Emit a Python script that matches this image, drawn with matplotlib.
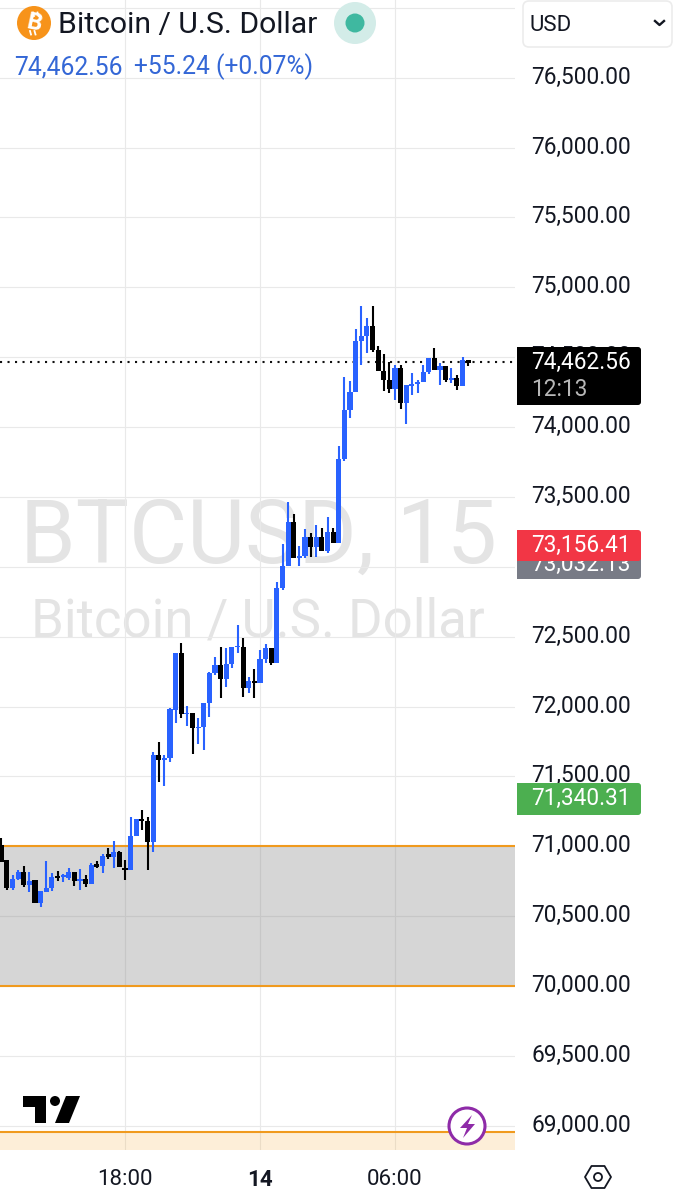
import matplotlib
matplotlib.use("Agg")
import matplotlib.pyplot as plt
from matplotlib.patches import Circle, FancyBboxPatch, Polygon, Rectangle
from matplotlib.transforms import ScaledTranslation

plt.rcParams['font.family'] = ['Roboto', 'DejaVu Sans']

# ---- data ----
slots = list(range(-22, 62))   # 15-minute candles, 0 = 18:00
opens = [71009,70902,70699,70763,70818,70723,70759,70597,70675,70699,70787,70783,70771,70814,70754,70763,70730,70871,70859,70942,70921,70961,
         70847,70830,71073,71195,71181,71028,71653,71617,71629,71975,72385,71944,71951,71844,71856,72028,72237,72297,72194,72302,72423,72428,72135,72183,72166,72340,72416,72314,
         72845,73005,73318,73060,73079,73210,73139,73215,73115,73246,73172,73768,74122,74248,74616,74654,74723,74551,74403,74337,74272,74425,74170,74296,74308,74325,74391,74492,74408,74439,74337,74349,74294,74480]
highs = [71057,70902,70794,70830,70859,70818,70759,70682,70895,70811,70823,70799,70842,70814,70835,70794,70878,70897,70945,70985,71040,70969,
         70902,71212,71195,71259,71212,71672,71748,71653,71987,72385,72452,72006,71951,71915,72028,72249,72357,72423,72416,72428,72583,72488,72209,72266,72404,72447,72416,72893,
         73163,73466,73375,73151,73268,73239,73299,73275,73353,73275,73864,74356,74329,74699,74866,74783,74866,74582,74523,74468,74444,74444,74301,74389,74337,74444,74492,74563,74456,74439,74420,74372,74499,74480]
lows = [70890,70687,70687,70759,70711,70675,70597,70568,70675,70680,70754,70747,70759,70716,70687,70711,70730,70842,70806,70907,70842,70854,
        70759,70830,71073,71116,70830,70956,71462,71434,71601,71880,71915,71861,71660,71732,71689,71923,72225,72063,72137,72278,72380,72066,72099,72058,72166,72309,72297,72314,
        72834,73005,73060,73008,73060,73072,73072,73115,73101,73172,73172,73759,74062,74248,74444,74527,74539,74403,74260,74241,74194,74127,74019,74229,74241,74325,74380,74408,74301,74325,74313,74265,74294,74439]
closes = [70890,70699,70763,70818,70723,70752,70597,70682,70704,70783,70775,70794,70818,70754,70763,70730,70866,70854,70933,70926,70961,70854,
          70830,71073,71195,71181,71028,71653,71617,71629,71980,72385,71944,71956,71844,71856,72028,72242,72297,72194,72302,72428,72435,72135,72183,72166,72340,72416,72314,72845,
          73005,73318,73060,73079,73210,73139,73215,73115,73246,73172,73768,74122,74248,74616,74654,74723,74551,74403,74337,74272,74425,74170,74301,74308,74325,74391,74492,74408,74439,74337,74349,74294,74480,74461]

price_ticks = [69000 + 500 * i for i in range(17)]
time_ticks = [0, 24, 48]
time_labels = ['18:00', '14', '06:00']
zone_grey = (70000, 71000)
zone_low_top = 68958
last_price = 74462.56

BLUE = '#2962FF'
W, H = 681, 1200
PLOT_R, PLOT_B = 515, 1150
PX_PER_SLOT = 135 / 24
PX_PER_USD = 0.13975

fig = plt.figure(figsize=(W / 100, H / 100), dpi=100, facecolor='white')


def pixel_axes(z):
    a = fig.add_axes([0, 0, 1, 1], zorder=z)
    a.set_xlim(0, W)
    a.set_ylim(H, 0)
    a.axis('off')
    a.patch.set_alpha(0)
    return a


# background: watermark
bg = pixel_axes(0)
bg.text(258, 563, 'BTCUSD, 15', fontsize=64.4, color='#e4e4e4', ha='center', va='baseline')
bg.text(258, 636, 'Bitcoin / U.S. Dollar', fontsize=38, color='#e4e4e4', ha='center', va='baseline')

# main price axes
ax = fig.add_axes([0, 1 - PLOT_B / H, PLOT_R / W, PLOT_B / H], zorder=1)
ax.patch.set_alpha(0)
ax.set_xlim(-125 / PX_PER_SLOT, (PLOT_R - 125) / PX_PER_SLOT)
ax.set_ylim(74000 - (PLOT_B - 427) / PX_PER_USD, 74000 + 427 / PX_PER_USD)
for s in ax.spines.values():
    s.set_visible(False)
ax.grid(True, color='#e9e9e9', lw=0.85, zorder=0)
ax.set_axisbelow(True)
ax.yaxis.tick_right()
ax.set_yticks(price_ticks)
# the top gridline's label sits behind the currency selector in the reference
ax.set_yticklabels([f'{p:,.2f}' if p < 77000 else '' for p in price_ticks], fontsize=16.3, color='#131722')
ax.set_xticks(time_ticks)
ax.set_xticklabels(time_labels, fontsize=16, color='#131722')
ax.tick_params(axis='y', length=0, pad=11.8)
ax.tick_params(axis='x', length=0, pad=14)
ax.get_xticklabels()[1].set_fontweight('bold')
shift = ScaledTranslation(0, 3 / 100, fig.dpi_scale_trans)
for lab in ax.get_yticklabels():
    lab.set_transform(lab.get_transform() + shift)

# zones
ax.axhspan(*zone_grey, color='#808080', alpha=0.32, lw=0, zorder=1)
ax.axhline(zone_grey[0], color='#F09A1E', lw=1.5, zorder=1.5)
ax.axhline(zone_grey[1], color='#F09A1E', lw=1.5, zorder=1.5)
ax.axhspan(ax.get_ylim()[0], zone_low_top, color='#F7A62B', alpha=0.18, lw=0, zorder=1)
ax.axhline(zone_low_top, color='#F09A1E', lw=1.5, zorder=1.5)

# last price line
ax.axhline(last_price, color='#111111', lw=1.5, ls=(0, (1, 2.6)), zorder=1.6)

# candles
colors = [BLUE if c >= o else '#000000' for o, c in zip(opens, closes)]
ax.vlines(slots, lows, highs, colors=colors, lw=1.5, zorder=3)
ax.bar(slots, [abs(c - o) for o, c in zip(opens, closes)],
       bottom=[min(o, c) for o, c in zip(opens, closes)],
       width=0.92, color=colors, lw=0, zorder=3)

# overlay: header, price labels, logos
ov = pixel_axes(5)


def box(x0, y0, x1, y1, fc, z=2):
    ov.add_patch(Rectangle((x0, y0), x1 - x0 - 3, y1 - y0, fc=fc, ec='none', zorder=z))
    ov.add_patch(FancyBboxPatch((x1 - 8, y0), 8, y1 - y0, boxstyle='round,pad=0,rounding_size=3',
                                fc=fc, ec='none', zorder=z, mutation_aspect=1))


# header
ov.add_patch(Circle((34, 23), 17, fc='#F7931A', ec='none'))
ov.text(34, 23.5, 'B', fontsize=17, fontweight='bold', color='white', rotation=-12, ha='center', va='center')
ov.plot([33, 34], [12.5, 16], color='white', lw=1.3)
ov.plot([37.5, 38.5], [12.5, 16], color='white', lw=1.3)
ov.plot([30, 31], [31, 34.5], color='white', lw=1.3)
ov.plot([34.5, 35.5], [31, 34.5], color='white', lw=1.3)
ov.text(58.5, 33, 'Bitcoin / U.S. Dollar', fontsize=21.7, color='#131722', va='baseline')
ov.add_patch(Circle((355, 23), 21, fc='#D3ECE8', ec='none'))
ov.add_patch(Circle((355, 23), 9.5, fc='#3FB8A0', ec='none'))
ov.text(14.5, 74, '74,462.56', fontsize=17.7, color='#3467D6', va='baseline')
ov.text(134, 74, '+55.24 (+0.07%)', fontsize=17.7, color='#3467D6', va='baseline')

# currency box
ov.add_patch(FancyBboxPatch((523, 1), 149, 46, boxstyle='round,pad=0,rounding_size=6',
                            fc='white', ec='#ececec', lw=1.2))
ov.text(529.5, 31, 'USD', fontsize=16, color='#131722', va='baseline')
ov.plot([655, 659.5, 664], [21, 25, 21], color='#131722', lw=1.7)

# price labels
box(517, 347, 641, 405, '#000000', z=2)
ov.text(531.5, 369, '74,462.56', fontsize=16.3, color='white', va='baseline', zorder=3)
ov.text(531.5, 396, '12:13', fontsize=16.3, color='#b8b8b8', va='baseline', zorder=3)

box(517, 555, 641, 579, '#787B86', z=2)
ov.text(531.5, 571, '73,032.13', fontsize=16.3, color='white', va='baseline', zorder=3)
box(517, 530, 641, 561, '#F23645', z=4)
ov.text(531.5, 552, '73,156.41', fontsize=16.3, color='white', va='baseline', zorder=5)

box(517, 783, 641, 815, '#4CAF50', z=2)
ov.text(531.5, 805, '71,340.31', fontsize=16.3, color='white', va='baseline', zorder=3)

# TradingView logo
ov.add_patch(Polygon([(23, 1096), (46, 1096), (46, 1123), (35, 1123), (35, 1107), (23, 1107)], fc='#000000', ec='none'))
ov.add_patch(Circle((55, 1101), 5, fc='#000000', ec='none'))
ov.add_patch(Polygon([(66, 1096), (80, 1096), (69, 1123), (55, 1123)], fc='#000000', ec='none'))

# lightning badge
ov.add_patch(Circle((467, 1126), 18, fc='white', ec='#8E2BA8', lw=2.2, zorder=3))
ov.add_patch(Polygon([(472, 1115), (460, 1128), (467, 1128), (463, 1138), (475, 1124), (468, 1124)],
                     fc='#8E2BA8', ec='none', zorder=4))

# settings hexagon
ov.add_patch(Polygon([(585, 1177), (591.5, 1166), (604.5, 1166), (611, 1177), (604.5, 1188), (591.5, 1188)],
                     fc='white', ec='#131722', lw=1.3, joinstyle='round'))
ov.add_patch(Circle((598, 1177), 4, fc='white', ec='#131722', lw=1.3))

fig.savefig('out.png', dpi=100)
